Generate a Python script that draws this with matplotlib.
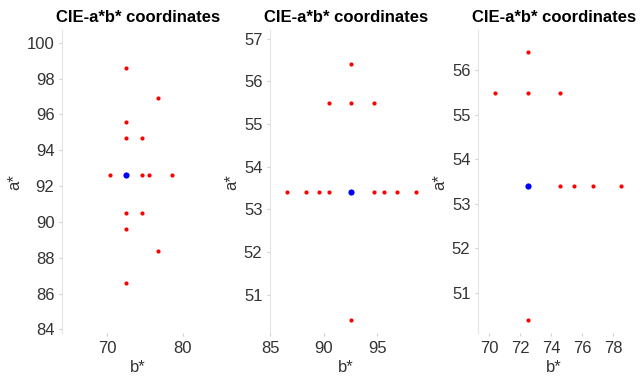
import matplotlib

matplotlib.use("Agg")
import matplotlib.pyplot as plt

plt.rcParams["font.family"] = ["Liberation Sans", "DejaVu Sans"]

# panel 1: a* vs b*
p1_b = [72.5, 76.7, 72.5, 72.5, 74.6, 70.4, 74.6, 75.5, 78.5, 72.5, 74.6, 72.5, 76.7, 72.5]
p1_a = [98.6, 96.9, 95.6, 94.7, 94.7, 92.6, 92.6, 92.6, 92.6, 90.5, 90.5, 89.6, 88.4, 86.6]
p1_ref = (72.5, 92.6)

# panel 2
p2_b = [86.6, 88.4, 89.6, 90.5, 94.7, 95.6, 96.9, 98.6, 92.6, 90.5, 92.6, 94.7, 92.6]
p2_a = [53.4, 53.4, 53.4, 53.4, 53.4, 53.4, 53.4, 53.4, 56.4, 55.5, 55.5, 55.5, 50.4]
p2_ref = (92.6, 53.4)

# panel 3
p3_b = [72.5, 70.4, 72.5, 74.6, 74.6, 75.5, 76.7, 78.5, 72.5]
p3_a = [56.4, 55.5, 55.5, 55.5, 53.4, 53.4, 53.4, 53.4, 50.4]
p3_ref = (72.5, 53.4)

panels = [
    (p1_b, p1_a, p1_ref, (64.1, 84.1), (83.8, 100.7), [70, 80], list(range(84, 101, 2))),
    (p2_b, p2_a, p2_ref, (85.0, 99.2), (50.1, 57.2), [85, 90, 95], list(range(51, 58))),
    (p3_b, p3_a, p3_ref, (69.3, 79.1), (50.1, 56.9), [70, 72, 74, 76, 78], list(range(51, 57))),
]

fig = plt.figure(figsize=(6.4, 3.79), dpi=100)
lefts = [0.097, 0.422, 0.747]

for left, (bs, as_, ref, xl, yl, xt, yt) in zip(lefts, panels):
    ax = fig.add_axes([left, 0.1214, 0.2375, 0.799])
    ax.scatter(bs, as_, s=9, color="red", linewidths=0)
    ax.scatter([ref[0]], [ref[1]], s=20, color="blue", linewidths=0)
    ax.set_xlim(*xl)
    ax.set_ylim(*yl)
    ax.set_xticks(xt)
    ax.set_yticks(yt)
    for side in ["top", "right", "bottom"]:
        ax.spines[side].set_visible(False)
    ax.spines["left"].set_color("#e4e4e4")
    ax.tick_params(colors="#d0d0d0", labelcolor="#333333", labelsize=12,
                   length=2, width=0.8)
    ax.set_xlabel("b*", fontsize=12, color="#333333", labelpad=3)
    ax.set_ylabel("a*", fontsize=12, color="#333333", labelpad=3)
    ax.set_title("CIE-a*b* coordinates", fontsize=12, fontweight="bold", pad=6)

fig.savefig("out.png", dpi=100)
